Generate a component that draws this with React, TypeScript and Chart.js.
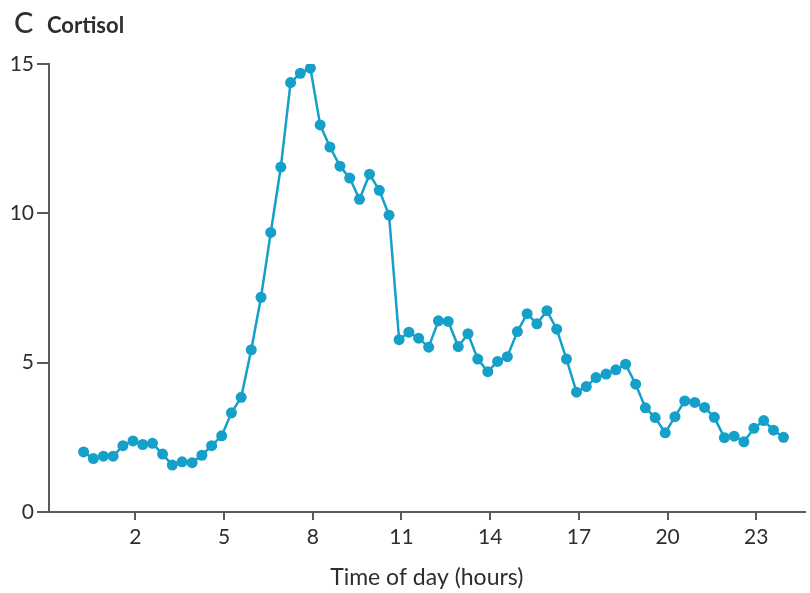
import React, { useEffect, useRef } from "react";
import { Chart, registerables } from "chart.js";

Chart.register(...registerables);

// Time of day (hours) for each sample, every 20 minutes
const hours = [
  0.25, 0.58, 0.92, 1.25, 1.58, 1.92, 2.25, 2.58, 2.92, 3.25, 3.58, 3.92,
  4.25, 4.58, 4.92, 5.25, 5.58, 5.92, 6.25, 6.58, 6.92, 7.25, 7.58, 7.92,
  8.25, 8.58, 8.92, 9.25, 9.58, 9.92, 10.25, 10.58, 10.92, 11.25, 11.58, 11.92,
  12.25, 12.58, 12.92, 13.25, 13.58, 13.92, 14.25, 14.58, 14.92, 15.25, 15.58, 15.92,
  16.25, 16.58, 16.92, 17.25, 17.58, 17.92, 18.25, 18.58, 18.92, 19.25, 19.58, 19.92,
  20.25, 20.58, 20.92, 21.25, 21.58, 21.92, 22.25, 22.58, 22.92, 23.25, 23.58, 23.92,
];

// Cortisol values
const cortisol = [
  2.01, 1.79, 1.87, 1.87, 2.22, 2.38, 2.26, 2.3, 1.94, 1.57, 1.68, 1.65,
  1.9, 2.22, 2.55, 3.32, 3.84, 5.43, 7.19, 9.36, 11.55, 14.38, 14.69, 14.86,
  12.96, 12.22, 11.58, 11.18, 10.47, 11.31, 10.77, 9.94, 5.77, 6.02, 5.82, 5.52,
  6.4, 6.38, 5.54, 5.97, 5.12, 4.7, 5.04, 5.2, 6.04, 6.64, 6.3, 6.74,
  6.12, 5.12, 4.01, 4.2, 4.5, 4.62, 4.76, 4.95, 4.28, 3.49, 3.16, 2.65,
  3.19, 3.72, 3.67, 3.5, 3.17, 2.49, 2.54, 2.35, 2.8, 3.06, 2.74, 2.5,
];

const xTickValues = [2, 5, 8, 11, 14, 17, 20, 23];
const yTickValues = [0, 5, 10, 15];

const panelLetter = "C";
const panelTitle = "Cortisol";
const xAxisTitle = "Time of day (hours)";

const FONT = "Lato, 'Open Sans', sans-serif";
const LINE_COLOR = "#14a0c8";
const AXIS_COLOR = "#5a5a5a";
const TEXT_COLOR = "#2e2e2e";

const headerPlugin = {
  id: "header",
  afterDraw(chart: any) {
    const ctx = chart.ctx;
    ctx.save();
    ctx.fillStyle = TEXT_COLOR;
    ctx.textBaseline = "alphabetic";
    ctx.textAlign = "left";
    ctx.font = `500 29px ${FONT}`;
    ctx.fillText(panelLetter, 14, 33);
    ctx.font = `700 22px ${FONT}`;
    ctx.fillText(panelTitle, 47, 33);
    ctx.restore();
  },
};

export default function App() {
  const ref = useRef<HTMLCanvasElement | null>(null);

  useEffect(() => {
    if (!ref.current) return;
    const data = hours.map((h, i) => ({ x: h, y: cortisol[i] }));
    const chart = new Chart(ref.current, {
      type: "line",
      data: {
        datasets: [
          {
            data,
            borderColor: LINE_COLOR,
            backgroundColor: LINE_COLOR,
            borderWidth: 2.5,
            pointRadius: 5.5,
            pointBorderWidth: 0,
            pointBackgroundColor: LINE_COLOR,
            tension: 0,
          },
        ],
      },
      options: {
        responsive: false,
        animation: false,
        layout: { padding: { top: 64, left: 0, right: 0, bottom: 0 } },
        plugins: {
          legend: { display: false },
          tooltip: { enabled: false },
        },
        scales: {
          x: {
            type: "linear",
            min: -0.92,
            max: 24.63,
            afterFit(scale: any) {
              scale.height = 81;
            },
            afterBuildTicks(scale: any) {
              scale.ticks = xTickValues.map((v) => ({ value: v }));
            },
            grid: {
              drawOnChartArea: false,
              drawTicks: true,
              tickLength: 8,
              tickWidth: 2,
              color: AXIS_COLOR,
              lineWidth: 2,
            },
            border: { display: true, color: AXIS_COLOR, width: 2 },
            ticks: {
              autoSkip: false,
              maxRotation: 0,
              padding: 5,
              color: TEXT_COLOR,
              font: { family: FONT, size: 21 },
              callback: (v: any) => String(v),
            },
            title: {
              display: true,
              text: xAxisTitle,
              color: TEXT_COLOR,
              font: { family: FONT, size: 23 },
              padding: { top: 0, bottom: 2 },
            },
          },
          y: {
            type: "linear",
            min: 0,
            max: 15,
            afterFit(scale: any) {
              scale.width = 49;
            },
            afterBuildTicks(scale: any) {
              scale.ticks = yTickValues.map((v) => ({ value: v }));
            },
            grid: {
              drawOnChartArea: false,
              drawTicks: true,
              tickLength: 12,
              tickWidth: 2,
              color: AXIS_COLOR,
              lineWidth: 2,
            },
            border: { display: true, color: AXIS_COLOR, width: 2 },
            ticks: {
              padding: 3,
              color: TEXT_COLOR,
              font: { family: FONT, size: 21 },
              callback: (v: any) => String(v),
            },
          },
        },
      },
      plugins: [headerPlugin],
    });
    return () => chart.destroy();
  }, []);

  return (
    <div style={{ position: "absolute", left: 0, top: 0, width: 810, height: 593, background: "#fff" }}>
      <canvas ref={ref} width={810} height={593} style={{ display: "block" }} />
    </div>
  );
}
